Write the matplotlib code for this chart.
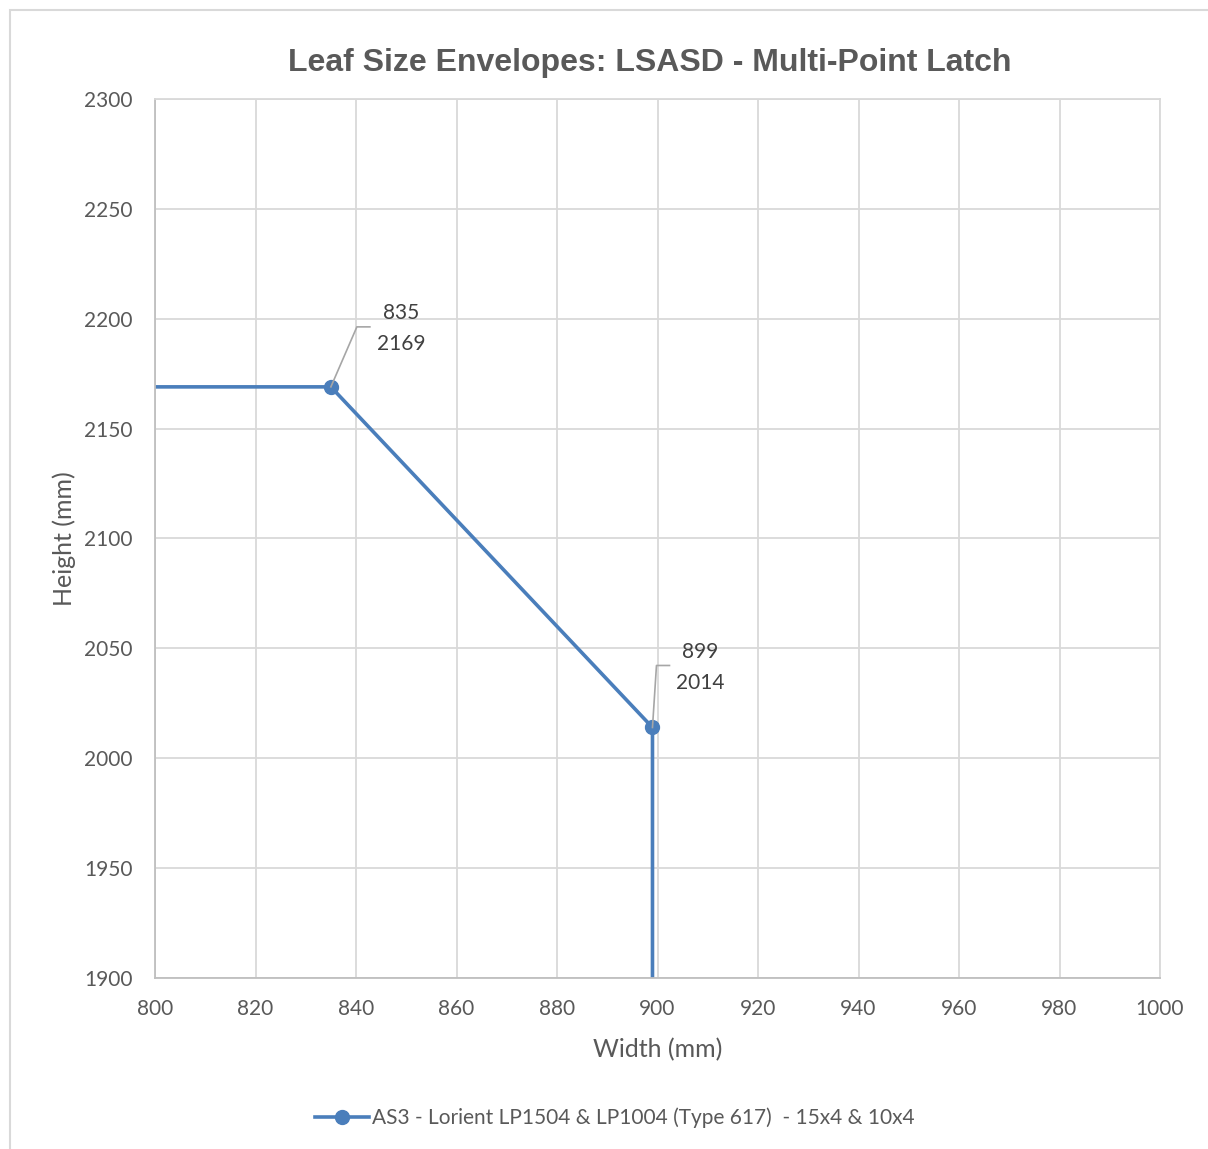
import matplotlib.pyplot as plt
from matplotlib.patches import Rectangle

# envelope of the leaf size (end points lie outside the axes limits)
width_mm = [600, 835, 899, 899]
height_mm = [2169, 2169, 2014, 1700]
labelled = [1, 2]  # indices of points that get a data label
label_offsets = {1: (70, 58), 2: (48, 60)}   # pixels, label centre from point
leader_ends = {1: (26, 60), 2: (4, 62)}      # pixels, elbow of the leader line

x_ticks = list(range(800, 1001, 20))
y_ticks = list(range(1900, 2301, 50))

series_name = 'AS3 - Lorient LP1504 & LP1004 (Type 617)  - 15x4 & 10x4'
line_colour = '#4a7ebb'
text_colour = '#595959'
grid_colour = '#d9d9d9'

plt.rcParams['font.family'] = ['Lato', 'DejaVu Sans']

W, H = 1208, 1149
fig = plt.figure(figsize=(W / 100, H / 100), dpi=100)

# chart frame
fig.patches.append(Rectangle((10 / W, -0.1), 1.2, 1 - 10 / H + 0.1, transform=fig.transFigure,
                             fill=False, edgecolor='#d9d9d9', linewidth=1.5))

ax = fig.add_axes([155 / W, 1 - 978 / H, (1160 - 155) / W, (978 - 99) / H])
ax.set_xlim(800, 1000)
ax.set_ylim(1900, 2300)
ax.set_xticks(x_ticks)
ax.set_yticks(y_ticks)
ax.grid(True, color=grid_colour, linewidth=1.3)
ax.set_axisbelow(True)
for side in ['top', 'right']:
    ax.spines[side].set_color(grid_colour)
    ax.spines[side].set_linewidth(1.3)
for side in ['left', 'bottom']:
    ax.spines[side].set_color('#bfbfbf')
    ax.spines[side].set_linewidth(1.3)
ax.tick_params(length=0, labelsize=15, labelcolor=text_colour)
ax.tick_params(axis='y', pad=16)
ax.tick_params(axis='x', pad=15)

ax.plot(width_mm, height_mm, color=line_colour, linewidth=2.6, marker='o',
        markersize=10, label=series_name)

# data labels with leader lines
inv = ax.transData.inverted()
for i in labelled:
    px, py = width_mm[i], height_mm[i]
    ox, oy = label_offsets[i]
    ax.annotate('{}\n{}'.format(px, py), xy=(px, py), xytext=(ox * 0.72, oy * 0.72),
                textcoords='offset points', ha='center', va='center',
                fontsize=15, color='#404040', linespacing=1.7, zorder=5)
    x0, y0 = ax.transData.transform((px, py))
    ex, ey = leader_ends[i]
    dx1, dy1 = inv.transform((x0 + ex, y0 + ey))
    dx2, dy2 = inv.transform((x0 + ex + 13, y0 + ey))
    ax.plot([px, dx1, dx2], [py, dy1, dy2], color='#a6a6a6', linewidth=1.2, zorder=4)

fig.text(650 / W, 1 - 63 / H, 'Leaf Size Envelopes: LSASD - Multi-Point Latch', fontsize=23,
         fontweight='bold', color=text_colour, family='Liberation Sans',
         ha='center', va='center')
ax.set_xlabel('Width (mm)', fontsize=18, color=text_colour, labelpad=14)
ax.set_ylabel('Height (mm)', fontsize=18, color=text_colour, labelpad=6)

fig.legend(loc='center', bbox_to_anchor=(615 / W, 1 - 1118 / H), frameon=False,
           fontsize=15, labelcolor=text_colour, handlelength=2.6, handletextpad=0.15)

fig.savefig('out.png', dpi=100)
